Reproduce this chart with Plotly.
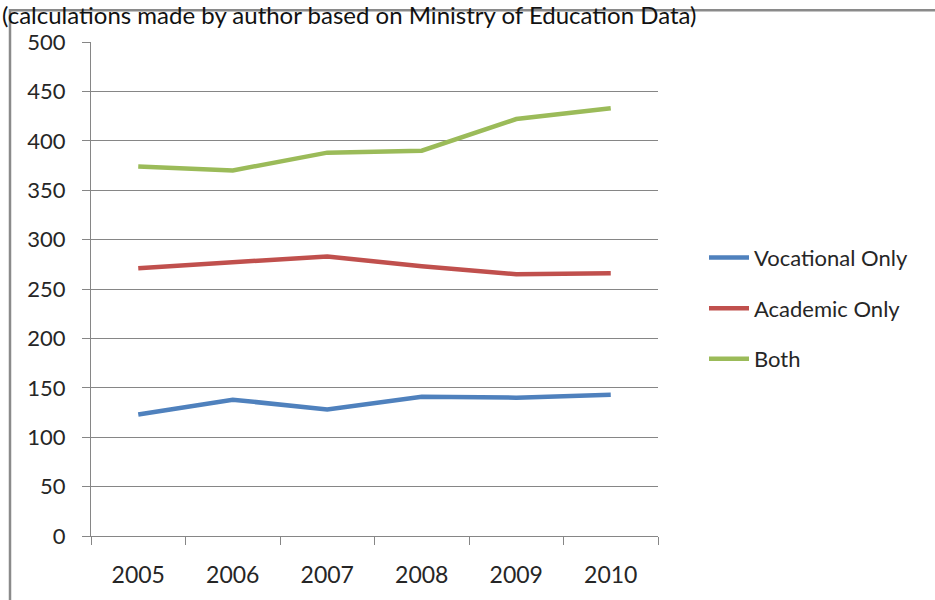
import plotly.graph_objects as go

years = ["2005", "2006", "2007", "2008", "2009", "2010"]
vocational = [123, 138, 128, 141, 140, 143]
academic = [271, 277, 283, 273, 265, 266]
both = [374, 370, 388, 390, 422, 433]

series_names = ["Vocational Only", "Academic Only", "Both"]
series_values = [vocational, academic, both]
colors = ["#4F81BD", "#C0504D", "#9BBB59"]

W, H = 935, 600
L, R, T, B = 91, 658, 42, 539
FONT = "Lato"

def px_x(px):
    return (px - L) / (R - L)

def px_y(py):
    return (B - py) / (B - T)

fig = go.Figure()
for i, (name, vals, c) in enumerate(zip(series_names, series_values, colors)):
    fig.add_trace(go.Scatter(
        x=years, y=vals, name=name, mode="lines",
        line=dict(color=c, width=4.5),
        legendgroup=f"g{i}",
    ))

fig.update_layout(
    width=W, height=H,
    margin=dict(l=L, r=W - R, t=T, b=H - B, pad=0),
    paper_bgcolor="white", plot_bgcolor="white",
    font=dict(family=FONT, size=22, color="#262626"),
    showlegend=True,
    legend=dict(
        x=px_x(704), y=px_y(238), xanchor="left", yanchor="top",
        font=dict(family=FONT, size=22, color="#262626"),
        tracegroupgap=19, bgcolor="rgba(0,0,0,0)",
        itemwidth=40,
    ),
    xaxis=dict(
        type="category", tickson="boundaries", showgrid=False,
        showline=True, linecolor="#868686", linewidth=1.3,
        ticks="outside", ticklen=8, tickcolor="#868686",
        tickfont=dict(size=23, family=FONT, color="#262626"),
        range=[-0.5, 5.5], fixedrange=True,
        ticklabelstandoff=18,
    ),
    yaxis=dict(
        range=[0, 500], tickvals=list(range(0, 501, 50)),
        showgrid=True, gridcolor="#868686", gridwidth=1.3,
        showline=True, linecolor="#868686", linewidth=1.3,
        ticks="outside", ticklen=8, tickcolor="#868686",
        tickfont=dict(size=22, family=FONT, color="#262626"),
        zeroline=False, ticklabelstandoff=12,
    ),
    annotations=[dict(
        text="(calculations made by author based on Ministry of Education Data)",
        xref="paper", yref="paper", x=px_x(0), y=px_y(14),
        xanchor="left", yanchor="middle", showarrow=False,
        font=dict(family=FONT, size=24, color="#111111"),
    )],
    shapes=[dict(
        type="rect", xref="paper", yref="paper",
        x0=px_x(10), x1=px_x(945), y0=px_y(10), y1=px_y(610),
        line=dict(color="#8a8a8a", width=2.5), layer="below",
    )],
)

fig.write_html("out.html")
